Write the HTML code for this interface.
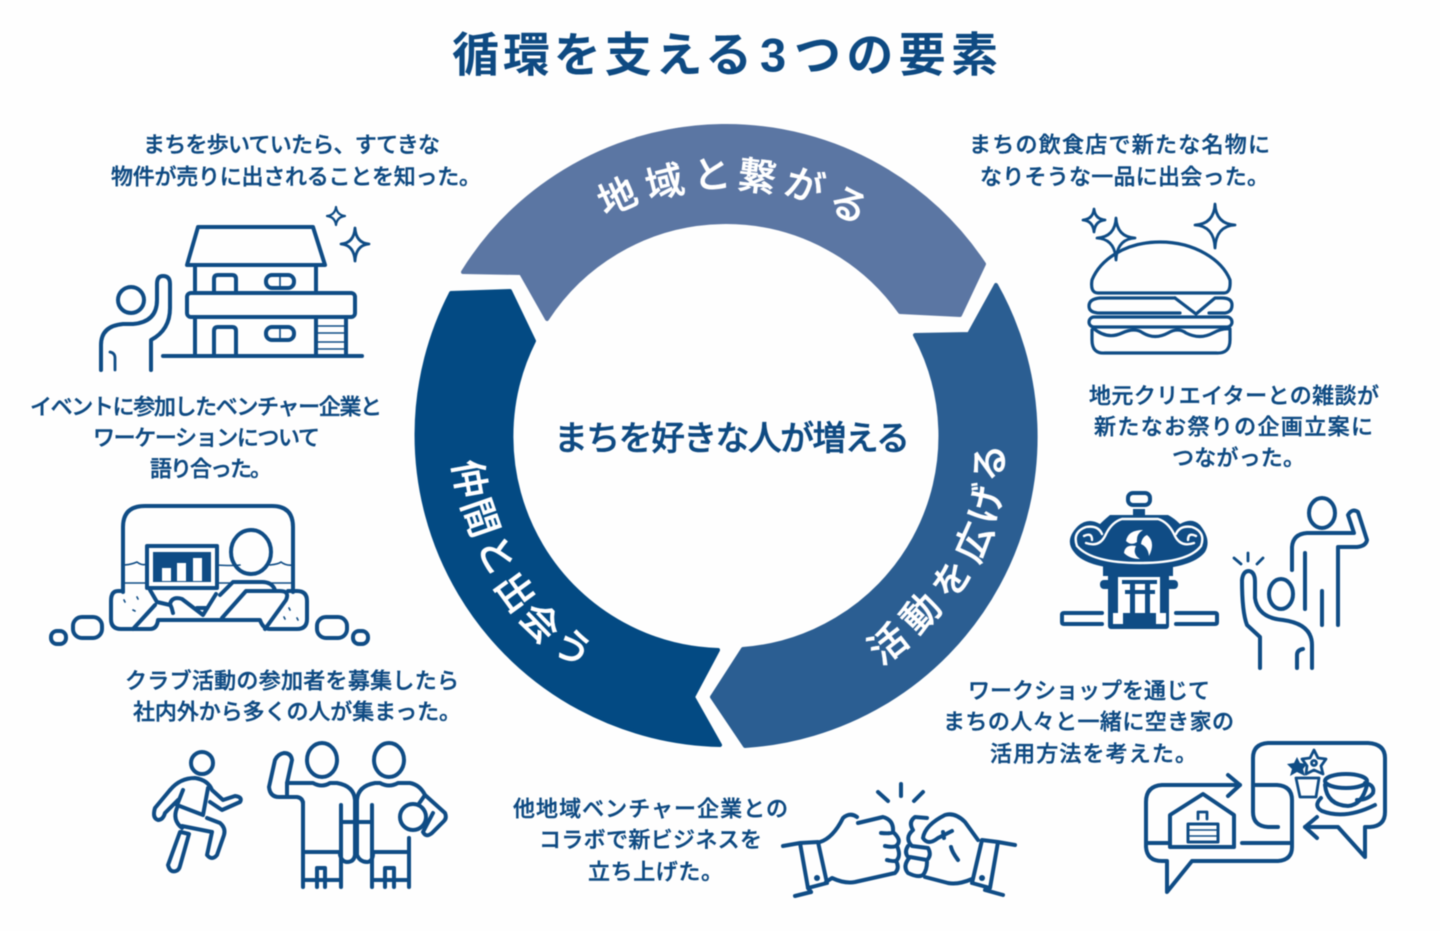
<!DOCTYPE html>
<html lang="ja"><head><meta charset="utf-8"><title>循環を支える3つの要素</title>
<style>
html,body{margin:0;padding:0;background:#fefefe;width:1440px;height:931px;overflow:hidden}
svg{display:block;filter:blur(.45px)}
text{font-family:"Liberation Sans","Noto Sans CJK JP",sans-serif}
.l text{font-size:22px;font-weight:500;fill:#0e4a82;stroke:#0e4a82;stroke-width:.4;dominant-baseline:central}
.w text{font-size:38px;font-weight:500;fill:#fff;stroke:#fff;stroke-width:.5;text-anchor:middle;dominant-baseline:central}
.i{fill:none;stroke:#0f4c85;stroke-width:4;stroke-linejoin:round;stroke-linecap:round}
.t{stroke-width:1.6}
.b{stroke-width:2.8}
.f{fill:#0f4c85;stroke:none}
.wh{fill:#fff;stroke:none}
.ws{fill:none;stroke:#fff;stroke-width:2.4;stroke-linecap:round}
</style></head><body>
<svg width="1440" height="931" viewBox="0 0 1440 931" xmlns="http://www.w3.org/2000/svg">
<g font-size="47" font-weight="700" fill="#0e4a82" dominant-baseline="central">
<text x="452" y="55" textLength="300" lengthAdjust="spacing">循環を支える</text>
<text x="760" y="55">3</text>
<text x="794" y="55" textLength="204" lengthAdjust="spacing">つの要素</text>
</g>

<!-- ring -->
<g stroke-linejoin="round" stroke-width="4">
<path d="M463 272 A310 310 0 0 1 984 264 L960 315 L900 312 A213.5 213.5 0 0 0 547 319 L521 273 Z" fill="#5b76a3" stroke="#5b76a3"/>
<path d="M996 285 A310 310 0 0 1 745 746 L712 697 L743 649 A213.5 213.5 0 0 0 915 335 L969 334 Z" fill="#2b5e92" stroke="#2b5e92"/>
<path d="M720 745 A310 310 0 0 1 451 293 L510 291 L534 341 A213.5 213.5 0 0 0 718 650 L693 697 Z" fill="#034a83" stroke="#034a83"/>
</g>
<text x="554" y="439" font-size="34" font-weight="500" fill="#0e4a82" stroke="#0e4a82" stroke-width=".5" dominant-baseline="central" textLength="356" lengthAdjust="spacing">まちを好きな人が増える</text>

<g class="w">
<text transform="translate(618,198) rotate(-24)">地</text>
<text transform="translate(665,184) rotate(-14)">域</text>
<text transform="translate(712,176) rotate(-4)">と</text>
<text transform="translate(757,178) rotate(7)">繋</text>
<text transform="translate(804,187) rotate(18)">が</text>
<text transform="translate(848,206) rotate(28)">る</text>
<text transform="translate(889,645) rotate(-38)">活</text>
<text transform="translate(922,614) rotate(-47)">動</text>
<text transform="translate(953,580) rotate(-56)">を</text>
<text transform="translate(975,543) rotate(-66)">広</text>
<text transform="translate(987,504) rotate(-77)">げ</text>
<text transform="translate(991,463) rotate(-86)">る</text>
<text transform="translate(468,479) rotate(80)">仲</text>
<text transform="translate(479,518) rotate(71)">間</text>
<text transform="translate(495,556) rotate(62)">と</text>
<text transform="translate(514,593) rotate(54)">出</text>
<text transform="translate(539,624) rotate(46)">会</text>
<text transform="translate(572,649) rotate(36)">う</text>
</g>

<!-- labels -->
<g class="l">
<text x="143" y="145" textLength="297">まちを歩いていたら、すてきな</text>
<text x="111" y="177" textLength="370">物件が売りに出されることを知った。</text>
<text x="30" y="407" textLength="352">イベントに参加したベンチャー企業と</text>
<text x="93" y="438" textLength="227">ワーケーションについて</text>
<text x="150" y="469" textLength="122">語り合った。</text>
<text x="125" y="681" textLength="334">クラブ活動の参加者を募集したら</text>
<text x="133" y="712" textLength="328">社内外から多くの人が集まった。</text>
<text x="513" y="809" textLength="275">他地域ベンチャー企業との</text>
<text x="539" y="840" textLength="223">コラボで新ビジネスを</text>
<text x="588" y="872" textLength="135">立ち上げた。</text>
<text x="968" y="691" textLength="242">ワークショップを通じて</text>
<text x="943" y="722" textLength="291">まちの人々と一緒に空き家の</text>
<text x="990" y="754" textLength="207">活用方法を考えた。</text>
<text x="1089" y="396" textLength="290">地元クリエイターとの雑談が</text>
<text x="1094" y="427" textLength="279">新たなお祭りの企画立案に</text>
<text x="1172" y="458" textLength="133">つながった。</text>
<text x="969" y="145" textLength="301">まちの飲食店で新たな名物に</text>
<text x="980" y="177" textLength="289">なりそうな一品に出会った。</text>
</g>

<!-- house -->
<g class="i">
<path d="M198 227 H313 L325 265 H187 Z"/>
<path d="M195 265 V290 M316 265 V290"/>
<path d="M214 293 V279 Q214 275 218 275 H232 Q236 275 236 279 V293"/>
<rect x="266" y="275" width="28" height="13" rx="6"/><path class="t" d="M280 275 V288"/>
<rect x="187" y="293" width="168" height="24" rx="4"/>
<path d="M195 317 V356 M316 317 V356 M346 317 V356"/>
<path d="M214 356 V331 Q214 327 218 327 H232 Q236 327 236 331 V356"/>
<rect x="266" y="327" width="28" height="13" rx="6"/><path class="t" d="M280 327 V340"/>
<path class="t" d="M316 326 H346 M316 333 H346 M316 342 H346 M316 349 H346"/>
<path d="M163 356 H362"/>
<circle cx="131" cy="300" r="13"/>
<path d="M101 370 V345 Q101 326 123 324 H133 Q157 322 157 300 V284 Q157 276 163 276 Q170 276 170 284 V308 Q170 330 151 340 V370"/>
<path class="b" d="M110 352 Q115 353 115 358 V370"/>
<path class="t" style="stroke-width:2.2" d="M336 207 Q337 215 345 216 Q337 217 336 225 Q335 217 327 216 Q335 215 336 207 Z"/>
<path class="b" d="M355 228 Q356 243 369 244 Q356 245 355 261 Q354 245 341 244 Q354 243 355 228 Z"/>
</g>

<!-- meeting -->
<g class="i">
<path d="M123 592 V527 Q123 506 145 506 H272 Q293 506 293 527 V592"/>
<path d="M123 591 H118 Q111 591 111 601 V619 Q111 629 121 629 H150 Q157 629 158 620 H260 Q263 629 270 629 H297 Q307 629 307 619 V601 Q307 591 297 591 H288"/>
<path class="t" d="M123 583 H147 M217 583 H293 M123 565 Q130 565 137 562 Q142 566 147 564 M217 565 Q232 566 240 565 M270 565 Q279 564 281 562 Q286 566 293 565"/>
<rect x="147" y="546" width="70" height="42"/>
<rect class="f" x="153" y="552" width="58" height="30"/>
<rect class="wh" x="162" y="568" width="9" height="13"/><rect class="wh" x="177" y="563" width="9" height="18"/><rect class="wh" x="193" y="558" width="9" height="23"/>
<ellipse cx="251" cy="552" rx="20" ry="22"/>
<path d="M220 595 L233 582 H262 Q272 582 275 590"/>
<path d="M222 618 L246 591 H280 Q290 591 286 600 L265 629"/>
<path d="M216 594 L203 615 L182 599 Q172 596 170 604 Q172 608 173 613"/>
<path d="M150 590 L157 602 L170 605 M133 629 L155 605 M197 608 H207"/>
<rect x="73" y="617" width="29" height="21" rx="9"/>
<rect x="51" y="631" width="15" height="13" rx="6"/>
<rect x="317" y="617" width="30" height="21" rx="9"/>
<rect x="353" y="631" width="15" height="13" rx="6"/>
<path class="t" d="M124 600 L125 602 M137 597 L138 599 M133 610 L135 611 M289 608 L290 610 M284 617 L285 619 M297 618 L298 620"/>
</g>

<!-- soccer -->
<g class="i">
<circle cx="202" cy="763" r="11"/>
<path d="M170 790 Q180 778 195 778 Q208 780 212 790 L223 800 L235 796 Q243 797 240 802 L222 810 L210 802"/>
<path d="M208 788 L203 815 M183 790 L177 805 M177 805 L203 815"/>
<path d="M170 790 L155 808 Q152 818 158 820 Q163 820 165 813 L178 800"/>
<path d="M177 808 Q172 820 182 828 M180 832 L168 865 Q170 873 176 871 Q179 870 180 866 L189 834 L181 832"/>
<path d="M207 818 L220 823 Q226 828 224 835 L217 855 Q212 861 207 855 L212 832 L182 826"/>

<ellipse cx="322" cy="760" rx="15" ry="17"/>
<ellipse cx="389" cy="760" rx="15" ry="17"/>
<path d="M287 783 H313 Q322 788 330 783 H337 Q354 786 355 800 V855 Q354 862 347 862 Q342 862 340 855 M341 805 V887 M303 802 V887 M303 852 H341 M303 880 H341 M317 887 V868 H325 V887"/>
<path d="M287 783 L292 760 Q291 753 284 753 Q278 754 275 760 L269 787 Q270 797 279 797 H297 Q303 798 303 804 M287 783 V797"/>
<path d="M342 822 H372"/>
<path d="M357 800 V855 Q360 862 367 862 Q372 862 373 855 M372 805 V887 M409 838 V887 M372 852 H409 M372 880 H409 M385 887 V868 H394 V887"/>
<path d="M357 800 Q358 786 375 783 H380 Q389 788 398 783 H410 Q420 785 425 795 L445 813 Q447 818 444 821 L432 833 Q426 838 423 832 L433 813"/>
<circle cx="413" cy="817" r="13"/>
<path d="M425 795 L418 805"/>
</g>

<!-- fist bump -->
<g class="i">
<path d="M783 846 L800 843 L818 842 L827 883 L808 888 L800 843 M795 896 L811 892"/>
<path d="M811 892 L808 888"/>
<circle class="f" cx="817" cy="878" r="3"/>
<path d="M820 842 Q833 838 843 818 Q850 812 857 817"/>
<path d="M858 823 L883 817 Q894 820 893 832 Q891 834 881 833 M893 832 Q902 840 897 845 Q895 848 885 846 M897 846 Q901 855 897 860 Q895 862 887 860 M896 861 Q900 868 895 873 L855 882 Q845 884 832 878 L826 882"/>
<path d="M1015 845 L998 842 L982 840 L972 883 L990 888 L998 842 M1003 895 L985 890"/>
<circle class="f" cx="982" cy="878" r="3"/>
<path d="M978 840 L965 822 Q955 812 945 815 Q925 825 923 838 Q928 846 938 838 L952 831"/>
<path d="M927 818 L915 817 Q908 822 913 830 Q904 838 912 846 L928 848 Q932 855 927 860 L910 857 Q902 866 908 873 Q918 878 923 875 Q927 870 927 862 M908 846 Q904 852 908 857"/>
<path d="M925 877 L948 883 Q958 885 972 879"/>
<path d="M951 847 Q952 852 958 860 M943 832 L944 838"/>
<path d="M878 792 L888 801 M901 784 V796 M923 792 L914 801"/>
</g>

<!-- chat -->
<g class="i">
<path d="M1240 785 H1162 Q1146 786 1146 802 V847 Q1147 861 1162 861 H1167 V892 L1192 861 H1278 Q1292 860 1292 847 V800 Q1292 786 1277 785 H1253"/>
<path d="M1146 843 H1170 M1242 843 H1292"/>
<path d="M1170 847 V815 L1203 794 L1234 815 V847 Z"/>
<rect x="1188" y="824" width="30" height="18" stroke-width="3"/>
<path class="t" d="M1188 830 H1218 M1188 836 H1218"/>
<path class="b" d="M1198 819 V812 H1207 V819"/>
<path d="M1228 775 L1240 785 L1228 796"/>
<path d="M1278 827 H1268 Q1253 826 1253 812 V758 Q1253 744 1268 743 H1368 Q1385 744 1385 758 V812 Q1385 826 1370 827 H1365 V857 L1338 827 H1305"/>
<path d="M1317 817 L1305 827 L1317 838"/>
<ellipse cx="1346" cy="781" rx="21" ry="7"/>
<path d="M1325 785 Q1327 805 1348 806 Q1362 805 1367 785"/>
<path d="M1365 783 Q1375 785 1373 793 Q1368 800 1357 800"/>
<path d="M1321 798 Q1313 806 1322 811 Q1345 820 1375 805"/>
<path class="b" d="M1296 778 H1319 L1316 797 H1300 Z"/>
<path class="b" d="M1314 750 L1318 758 L1326 759 L1321 766 L1323 774 L1314 770 L1306 774 L1307 766 L1302 759 L1310 758 Z"/>
<circle class="b" cx="1314" cy="763" r="2.5"/>
<path class="f" d="M1297 757 L1300 763 L1307 764 L1303 769 L1305 776 L1297 772 L1290 776 L1292 769 L1287 764 L1294 763 Z"/>
</g>

<!-- mikoshi -->
<g>
<rect class="i" x="1128" y="493" width="22" height="12" rx="5"/>
<rect class="f" x="1133" y="509" width="12" height="7"/>
<path class="f" d="M1110 515 H1168 Q1174 518 1180 524 Q1192 517 1200 525 Q1212 540 1205 552 Q1192 569 1140 570 Q1086 569 1074 552 Q1064 540 1078 526 Q1088 517 1100 524 Q1104 520 1110 515 Z"/>
<path class="ws" d="M1077 546 Q1072 532 1086 527 Q1098 525 1102 534 M1077 546 Q1092 563 1140 563 Q1188 563 1201 546 Q1206 532 1192 527 Q1180 525 1176 534"/>
<path class="ws" d="M1086 543 Q1100 548 1106 534 Q1112 522 1122 519 H1158 Q1168 522 1174 534 Q1180 548 1194 543"/>
<path class="ws" d="M1084 536 Q1092 532 1092 540 M1196 536 Q1188 532 1188 540"/>
<path class="wh" d="M1126 541 Q1128 530 1143 530 Q1136 534 1137 542 Q1131 546 1126 541 Z M1147 535 Q1156 542 1149 556 Q1148 547 1141 544 Q1142 537 1147 535 Z M1136 546 Q1132 554 1140 559 Q1130 559 1124 553 Q1125 544 1136 546 Z"/>
<rect class="f" x="1103" y="566" width="70" height="10"/>
<rect class="f" x="1108" y="566" width="61" height="63" rx="3"/>
<rect class="f" x="1100" y="580" width="78" height="9" rx="4"/>
<rect class="wh" x="1118" y="577" width="42" height="36"/>
<rect class="f" x="1122" y="580" width="35" height="4"/>
<rect class="f" x="1125" y="590" width="30" height="4"/>
<rect class="f" x="1130" y="580" width="5" height="33"/>
<rect class="f" x="1145" y="580" width="5" height="33"/>
<rect class="wh" x="1113" y="613" width="10" height="11"/>
<rect class="wh" x="1156" y="613" width="10" height="11"/>
<path class="i" d="M1102 613 H1064 Q1062 613 1062 615 V622 Q1062 624 1064 624 H1102 M1176 613 H1215 Q1217 613 1217 615 V622 Q1217 624 1215 624 H1176"/>
</g>
<g class="i">
<ellipse cx="1322" cy="513" rx="13" ry="15"/>
<path d="M1292 570 V547 Q1293 534 1307 533 H1354 L1348 515 Q1352 508 1358 512 L1367 540 Q1366 546 1357 547 H1338 V625"/>
<path d="M1305 553 V609 M1322 591 V625"/>
<ellipse cx="1281" cy="594" rx="12" ry="15"/>
<path d="M1260 668 V637 L1247 625 Q1242 612 1242 580 Q1243 571 1249 571 Q1255 572 1255 582 V598 Q1258 618 1283 620 Q1312 624 1312 645 V668"/>
<path d="M1297 668 V655 Q1297 650 1303 649"/>
<path class="b" d="M1234 558 L1241 564 M1248 553 V561 M1263 558 L1257 564"/>
</g>

<!-- burger -->
<g class="i" style="stroke-width:3.2">
<path d="M1098 293 Q1090 293 1092 280 C1100 260 1125 242 1160 242 C1195 242 1222 260 1230 280 Q1231 293 1224 293 Z"/>
<path d="M1175 298 H1100 Q1089 299 1089 306 Q1089 313 1100 313 H1180"/>
<path d="M1209 313 H1225 Q1232 312 1232 305 Q1232 298 1222 298 H1215 L1196 314 L1175 298"/>
<rect x="1089" y="317" width="143" height="10" rx="5"/>
<path d="M1093 328 Q1107 340 1122 333 Q1135 327 1143 333 Q1155 340 1168 333 Q1178 327 1186 333 Q1200 340 1213 333 Q1222 328 1230 329"/>
<path d="M1092 330 V340 Q1092 354 1105 353 H1216 Q1230 354 1230 340 V330"/>
<path class="b" d="M1094 209 Q1095 219 1105 220 Q1095 221 1094 232 Q1093 221 1083 220 Q1093 219 1094 209 Z"/>
<path class="b" d="M1116 218 Q1117 237 1135 238 Q1117 239 1116 260 Q1115 239 1097 238 Q1115 237 1116 218 Z"/>
<path class="b" d="M1215 204 Q1216 224 1235 225 Q1216 226 1215 248 Q1214 226 1195 225 Q1214 224 1215 204 Z"/>
</g>
</svg>
</body></html>
